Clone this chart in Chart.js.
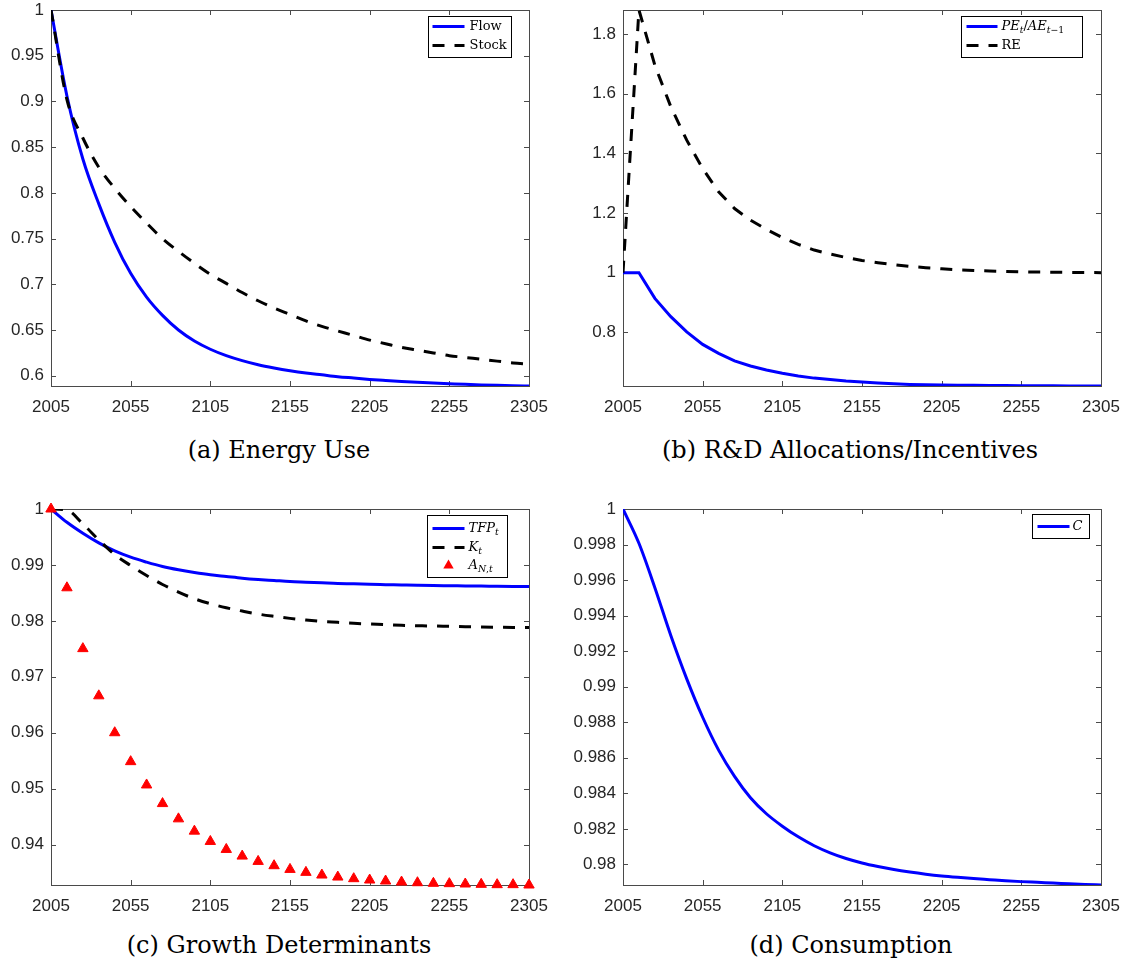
<!DOCTYPE html>
<html><head><meta charset="utf-8">
<script src="https://cdn.jsdelivr.net/npm/chart.js@4.4.1/dist/chart.umd.min.js"></script>
<style>
html,body{margin:0;padding:0;background:#fff;width:1129px;height:970px;overflow:hidden;position:relative}
canvas{position:absolute}
.cap{position:absolute;font-family:"DejaVu Serif",serif;font-size:24px;color:#000;white-space:nowrap;transform:translate(-50%,-50%)}
</style></head><body>
<canvas id="ca" width="564" height="420" style="left:0;top:0"></canvas>
<canvas id="cb" width="565" height="420" style="left:564px;top:0"></canvas>
<canvas id="cc" width="564" height="420" style="left:0;top:495px"></canvas>
<canvas id="cd" width="565" height="420" style="left:564px;top:495px"></canvas>
<div class="cap" style="left:279px;top:450px">(a) Energy Use</div>
<div class="cap" style="left:850px;top:450px">(b) R&amp;D Allocations/Incentives</div>
<div class="cap" style="left:279px;top:945px">(c) Growth Determinants</div>
<div class="cap" style="left:851px;top:945px">(d) Consumption</div>
<script>
// ---------- data ----------
const years = [2005,2015,2025,2035,2045,2055,2065,2075,2085,2095,2105,2115,2125,2135,2145,2155,2165,2175,2185,2195,2205,2215,2225,2235,2245,2255,2265,2275,2285,2295,2305];
const xTickLabels = [2005,2055,2105,2155,2205,2255,2305];

// (a) Energy Use
const flow  = [1.000,0.906,0.837,0.788,0.746,0.712,0.686,0.666,0.650,0.638,0.629,0.622,0.6165,0.612,0.6085,0.6055,0.603,0.601,0.599,0.5975,0.596,0.5948,0.5937,0.5928,0.592,0.5913,0.5906,0.5900,0.5895,0.5891,0.5888];
const stock = [1.000,0.902,0.860,0.828,0.805,0.785,0.767,0.750,0.736,0.723,0.711,0.701,0.691,0.682,0.674,0.667,0.660,0.654,0.649,0.644,0.639,0.635,0.631,0.628,0.625,0.622,0.620,0.618,0.616,0.614,0.6127];
const yTicksA = [0.6,0.65,0.7,0.75,0.8,0.85,0.9,0.95,1];

// (b) R&D Allocations/Incentives
const peRatio = [1.0,1.0,0.914,0.853,0.802,0.760,0.730,0.705,0.6875,0.674,0.663,0.654,0.647,0.642,0.637,0.634,0.631,0.628,0.626,0.625,0.624,0.6235,0.623,0.6225,0.622,0.6218,0.6215,0.6212,0.621,0.6208,0.6206];
const reVals  = [1.0,1.880,1.695,1.556,1.444,1.349,1.271,1.215,1.176,1.145,1.118,1.095,1.076,1.0625,1.051,1.041,1.0335,1.027,1.021,1.017,1.0134,1.010,1.0078,1.006,1.0045,1.0033,1.0022,1.0017,1.0011,1.0006,1.0002];
const yTicksB = [0.8,1,1.2,1.4,1.6,1.8];

// (c) Growth Determinants
const tfp = [1.0,0.99762,0.99566,0.99394,0.99251,0.99138,0.99049,0.98971,0.98912,0.98864,0.98823,0.98793,0.98763,0.9874,0.98722,0.98704,0.98692,0.9868,0.98668,0.98662,0.98653,0.98647,0.98641,0.98635,0.9863,0.98627,0.98624,0.98621,0.98618,0.98615,0.98612];
const kCap = [1.0,0.99982,0.99732,0.99447,0.99185,0.98989,0.98811,0.9865,0.98514,0.98395,0.98306,0.98234,0.98175,0.98121,0.9808,0.98044,0.98014,0.9799,0.97973,0.97955,0.97943,0.97931,0.97919,0.97913,0.97907,0.97901,0.97895,0.97889,0.97886,0.97883,0.97883];
const aN = [1.0,0.98591,0.97503,0.96659,0.95999,0.95482,0.95065,0.94732,0.94459,0.94239,0.94055,0.93912,0.93793,0.93698,0.93621,0.93555,0.93502,0.93454,0.93418,0.93389,0.93365,0.93347,0.93329,0.93317,0.93306,0.933,0.93294,0.93288,0.93282,0.93282,0.93276];
const yTicksC = [0.94,0.95,0.96,0.97,0.98,0.99,1];

// (d) Consumption
const cons = [1.0,0.99807,0.99557,0.99288,0.99044,0.98828,0.98643,0.98495,0.98375,0.98285,0.98215,0.98155,0.98105,0.98065,0.98033,0.98008,0.97988,0.97971,0.97957,0.97945,0.97935,0.97927,0.9792,0.97914,0.97908,0.97903,0.97899,0.97895,0.97891,0.97887,0.97884];
const yTicksD = [0.98,0.982,0.984,0.986,0.988,0.99,0.992,0.994,0.996,0.998,1];

// ---------- helpers ----------
const BLUE = '#0000ff', AX = '#4a4a4a', TXT = '#262626';
const pts = arr => arr.map((v,i)=>({x:years[i], y:v}));

function drawRich(ctx, segs, x, y, size){
  ctx.fillStyle = '#000';
  ctx.textAlign = 'left';
  ctx.textBaseline = 'middle';
  for (const s of segs){
    const fs = s.sub ? size*0.72 : size;
    ctx.font = (s.it ? 'italic ' : '') + fs + 'px "DejaVu Serif"';
    const dy = s.sub ? size*0.32 : 0;
    ctx.fillText(s.t, x, y+dy);
    x += ctx.measureText(s.t).width + (s.sp||0);
  }
}

const deco = {
  id:'deco',
  beforeDatasetsDraw(chart, args, o){
    const {ctx, chartArea:a} = chart;
    const xs = chart.scales.x, ys = chart.scales.y;
    ctx.save();
    ctx.strokeStyle = AX; ctx.lineWidth = 1;
    ctx.strokeRect(Math.round(a.left)+0.5, Math.round(a.top)+0.5, Math.round(a.right-a.left), Math.round(a.bottom-a.top));
    const L = 5;
    ctx.beginPath();
    for (const v of xTickLabels){
      const px = Math.round(xs.getPixelForValue(v))+0.5;
      ctx.moveTo(px, a.bottom); ctx.lineTo(px, a.bottom-L);
      ctx.moveTo(px, a.top); ctx.lineTo(px, a.top+L);
    }
    for (const v of o.yTicks){
      const py = Math.round(ys.getPixelForValue(v))+0.5;
      ctx.moveTo(a.left, py); ctx.lineTo(a.left+L, py);
      ctx.moveTo(a.right, py); ctx.lineTo(a.right-L, py);
    }
    ctx.stroke();
    ctx.restore();
  },
  afterDatasetsDraw(chart, args, o){
    const lg = o.legend; if(!lg) return;
    const {ctx, chartArea:a} = chart;
    const bx = Math.round(a.right - lg.right - lg.w)+0.5, by = Math.round(a.top + lg.top)+0.5;
    ctx.save();
    ctx.fillStyle = '#fff'; ctx.fillRect(bx, by, lg.w, lg.h);
    ctx.strokeStyle = '#000'; ctx.lineWidth = 1; ctx.strokeRect(bx, by, lg.w, lg.h);
    lg.rows.forEach((r)=>{
      const ds = chart.data.datasets[r.ds];
      const yy = by + r.y;
      const x0 = bx + lg.s0, x1 = bx + lg.s1;
      if (ds.showLine === false){
        const cx = (x0+x1)/2, R = 6;
        ctx.fillStyle = ds.backgroundColor;
        ctx.beginPath();
        ctx.moveTo(cx, yy-R);
        ctx.lineTo(cx+R*0.866, yy+R/2);
        ctx.lineTo(cx-R*0.866, yy+R/2);
        ctx.closePath(); ctx.fill();
      } else {
        ctx.strokeStyle = ds.borderColor; ctx.lineWidth = ds.borderWidth;
        ctx.setLineDash(ds.borderDash || []);
        ctx.beginPath(); ctx.moveTo(x0, yy); ctx.lineTo(x1, yy); ctx.stroke();
        ctx.setLineDash([]);
      }
      drawRich(ctx, r.label, bx + lg.tx, yy, 13);
    });
    ctx.restore();
  }
};

function makeChart(id, area, yMin, yMax, yTicks, datasets, legend){
  const cv = document.getElementById(id);
  const W = cv.width, H = cv.height;
  return new Chart(cv, {
    type:'line',
    data:{datasets},
    plugins:[deco],
    options:{
      responsive:false, animation:false, devicePixelRatio:1,
      layout:{padding:{left:0, top:area.top, right:W-area.right, bottom:0}},
      elements:{line:{tension:0}, point:{radius:0}},
      plugins:{legend:{display:false}, tooltip:{enabled:false}, deco:{yTicks, legend}},
      scales:{
        x:{type:'linear', min:2005, max:2305,
           grid:{display:false, drawTicks:false}, border:{display:false},
           ticks:{padding:11, color:TXT, font:{family:'"Liberation Sans", Arial, sans-serif', size:17}, maxRotation:0, autoSkip:false, callback:v=>String(v)},
           afterBuildTicks:s=>{ s.ticks = xTickLabels.map(v=>({value:v})); },
           afterFit:s=>{ s.height = H - area.bottom; s.paddingLeft = 0; s.paddingRight = 0; }},
        y:{type:'linear', min:yMin, max:yMax,
           grid:{display:false, drawTicks:false}, border:{display:false},
           ticks:{padding:7, color:TXT, font:{family:'"Liberation Sans", Arial, sans-serif', size:17}, autoSkip:false, callback:v=>String(+(+v).toFixed(4))},
           afterBuildTicks:s=>{ s.ticks = yTicks.map(v=>({value:v})); },
           afterFit:s=>{ s.width = area.left; s.paddingTop = 0; s.paddingBottom = 0; }}
      }
    }
  });
}

const solid = (data, order, smooth=true)=>({data:pts(data), borderColor:BLUE, backgroundColor:BLUE, borderWidth:3, pointRadius:0, fill:false, cubicInterpolationMode: smooth ? 'monotone' : 'default', tension:0, order});
const dashed = (data, order, smooth=true)=>({data:pts(data), borderColor:'#000', backgroundColor:'#000', borderWidth:3, borderDash:[12,10], pointRadius:0, fill:false, cubicInterpolationMode: smooth ? 'monotone' : 'default', tension:0, order});

const up = t=>({t}), it = t=>({t, it:true}), sub = (t, i=true)=>({t, it:i, sub:true});

// (a)
makeChart('ca', {left:51, top:10, right:529, bottom:386}, 0.5888, 1, yTicksA,
  [solid(flow,2), dashed(stock,1)],
  {right:18, top:6, w:83, h:41, s0:4, s1:36, tx:41,
   rows:[{ds:0, y:10, label:[up('Flow')]}, {ds:1, y:29, label:[up('Stock')]}]});

// (b)
makeChart('cb', {left:59, top:10, right:537, bottom:386}, 0.6206, 1.88, yTicksB,
  [solid(peRatio,2,false), dashed(reVals,1,false)],
  {right:19, top:6, w:121, h:41, s0:5, s1:36, tx:40,
   rows:[{ds:0, y:10, label:[it('PE'), sub('t'), up('/'), it('AE'), sub('t'), sub('\u22121', false)]},
         {ds:1, y:29, label:[up('RE')]}]});

// (c)
makeChart('cc', {left:51, top:14, right:529, bottom:390}, 0.93276, 1, yTicksC,
  [solid(tfp,3), dashed(kCap,2),
   {data:pts(aN), showLine:false, pointStyle:'triangle', pointRadius:6, pointBackgroundColor:'#ff0000', pointBorderColor:'#ff0000', backgroundColor:'#ff0000', borderColor:'#ff0000', pointBorderWidth:1, clip:false, order:1}],
  {right:22, top:6, w:80, h:62, s0:5, s1:37, tx:41,
   rows:[{ds:0, y:13, label:[it('T'), it('F'), it('P'), sub('t')]},
         {ds:1, y:32, label:[it('K'), sub('t')]},
         {ds:2, y:50, label:[it('A'), sub('N'), sub(',', false), sub('t')]}]});

// (d)
makeChart('cd', {left:59, top:14, right:537, bottom:390}, 0.97884, 1, yTicksD,
  [solid(cons,1)],
  {right:12, top:5, w:57, h:24, s0:5, s1:37, tx:40,
   rows:[{ds:0, y:12, label:[it('C')]}]});
</script>
</body></html>
